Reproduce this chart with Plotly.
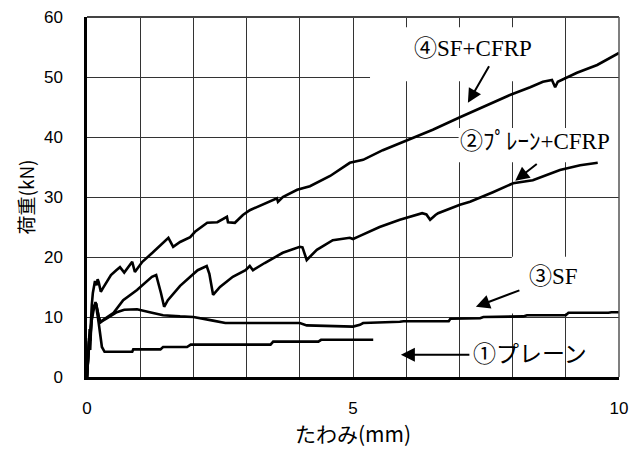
import plotly.graph_objects as go

# Load-deflection data (deflection in mm, load in kN)
x_sf_cfrp = [0, 0.02, 0.04, 0.05, 0.07, 0.09, 0.11, 0.13, 0.15, 0.18, 0.20, 0.22, 0.26, 0.30,
             0.37, 0.45, 0.55, 0.62, 0.70, 0.85, 0.90, 1.04, 1.23, 1.42, 1.53, 1.62, 1.75,
             1.94, 2.03, 2.26, 2.45, 2.63, 2.65, 2.78, 2.93, 3.06, 3.38, 3.57, 3.59, 3.68,
             3.95, 4.19, 4.57, 4.94, 5.19, 5.56, 6.03, 6.50, 7.01, 7.44, 7.95, 8.33, 8.57,
             8.74, 8.80, 8.85, 9.21, 9.59, 10.0]
y_sf_cfrp = [0, 3.0, 6.5, 5.0, 9.5, 12.0, 14.0, 15.5, 16.0, 15.3, 16.3, 15.8, 14.2, 14.8,
             15.8, 17.0, 17.8, 18.3, 17.4, 19.2, 17.5, 19.2, 20.7, 22.3, 23.2, 21.7, 22.5,
             23.3, 24.2, 25.7, 25.8, 26.7, 25.8, 25.7, 27.0, 27.8, 29.0, 29.8, 29.2, 30.0,
             31.2, 31.8, 33.5, 35.7, 36.2, 37.8, 39.5, 41.2, 43.3, 45.0, 47.0, 48.3, 49.2,
             49.5, 48.3, 49.2, 50.7, 52.0, 54.0]

x_plain_cfrp = [0, 0.02, 0.04, 0.06, 0.08, 0.12, 0.16, 0.20, 0.24, 0.30, 0.50, 0.68, 0.94,
                1.22, 1.30, 1.39, 1.45, 1.52, 1.75, 2.08, 2.25, 2.30, 2.37, 2.50, 2.74, 2.98,
                3.06, 3.12, 3.34, 3.68, 4.00, 4.05, 4.13, 4.32, 4.62, 4.94, 5.00, 5.10, 5.30,
                5.50, 5.88, 6.30, 6.38, 6.45, 6.55, 6.60, 7.01, 7.20, 7.63, 8.01, 8.38, 8.89,
                9.27, 9.60]
y_plain_cfrp = [0, 2.5, 6.0, 4.5, 9.0, 11.0, 12.5, 11.0, 9.0, 9.5, 10.7, 12.8, 14.5,
                16.7, 17.0, 14.0, 11.7, 12.8, 15.2, 17.8, 18.5, 17.2, 13.7, 15.0, 16.7, 17.8,
                18.5, 17.8, 19.0, 20.7, 21.7, 21.6, 19.5, 21.2, 22.8, 23.2, 23.0, 23.4, 24.2,
                25.0, 26.2, 27.3, 27.1, 26.2, 27.0, 27.3, 28.7, 29.2, 30.8, 32.3, 32.8, 34.5,
                35.3, 35.7]

x_sf = [0, 0.03, 0.05, 0.06, 0.09, 0.12, 0.17, 0.22, 0.26, 0.38, 0.56, 0.70, 0.94, 1.18,
        1.43, 1.75, 2.00, 2.37, 2.60, 3.00, 4.00, 4.13, 5.00, 5.13, 5.19, 5.88, 5.95, 6.80,
        6.83, 7.39, 7.45, 8.20, 8.27, 9.00, 9.05, 9.80, 9.86, 10.0]
y_sf = [0, 4.0, 7.0, 6.0, 10.0, 11.5, 12.3, 10.0, 9.2, 9.8, 10.8, 11.2, 11.3, 10.8,
        10.3, 10.1, 10.0, 9.4, 9.0, 9.0, 9.0, 8.6, 8.4, 8.7, 9.0, 9.2, 9.3, 9.3,
        9.7, 9.8, 10.0, 10.1, 10.3, 10.3, 10.7, 10.7, 10.8, 10.8]

x_plain = [0, 0.03, 0.05, 0.06, 0.09, 0.12, 0.17, 0.22, 0.28, 0.33, 0.85, 0.87, 1.38, 1.43,
           1.88, 1.95, 3.45, 3.50, 4.35, 4.40, 5.38]
y_plain = [0, 4.0, 8.0, 6.5, 10.0, 11.8, 12.0, 9.0, 5.0, 4.2, 4.2, 4.6, 4.6, 5.0,
           5.0, 5.4, 5.4, 5.9, 5.9, 6.2, 6.2]

x_ticks = [0, 5, 10]
y_ticks = [0, 10, 20, 30, 40, 50, 60]

LABEL_FONT = "Liberation Serif, Noto Sans CJK JP, serif"
JP_FONT = "Noto Sans CJK JP, sans-serif"
TICK_FONT = dict(family="Liberation Sans, Arial, sans-serif", size=17, color="black")

fig = go.Figure()
for xs, ys in [(x_plain, y_plain), (x_sf, y_sf), (x_plain_cfrp, y_plain_cfrp), (x_sf_cfrp, y_sf_cfrp)]:
    fig.add_trace(go.Scatter(x=xs, y=ys, mode="lines",
                             line=dict(color="black", width=2.6), showlegend=False,
                             hoverinfo="skip"))

# white panels behind the labels (they hide the grid but not the curves)
panels = [(5.32, 8.97, 49.3, 58.3), (6.985, 10.0, 35.8, 41.5), (7.985, 10.0, 10.6, 20.05)]
for x0, x1, y0, y1 in panels:
    fig.add_shape(type="rect", xref="x", yref="y", x0=x0, x1=x1, y0=y0, y1=y1,
                  fillcolor="white", line=dict(width=0), layer="between")

# top and right frame
fig.add_shape(type="line", xref="paper", yref="paper", x0=0, x1=1, y0=1, y1=1,
              line=dict(color="#444", width=2), layer="above")
fig.add_shape(type="line", xref="paper", yref="paper", x0=1, x1=1, y0=0, y1=1,
              line=dict(color="#555", width=1.5), layer="above")

labels = [("④SF+CFRP", 7.26, 54.8), ("②ﾌﾟﾚｰﾝ+CFRP", 8.42, 39.2),
          ("③SF", 8.76, 16.7), ("①プレーン", 8.33, 3.7)]
for text, lx, ly in labels:
    fig.add_annotation(x=lx, y=ly, xref="x", yref="y", text=text, showarrow=False,
                       font=dict(family=LABEL_FONT, size=23, color="black"))

arrows = [(7.16, 45.7, 22, -38), (8.05, 32.7, 23, -18), (7.31, 11.7, 45, -17), (5.9, 3.7, 70, 0)]
for tx, ty, ax, ay in arrows:
    fig.add_annotation(x=tx, y=ty, xref="x", yref="y", text="", showarrow=True,
                       ax=ax, ay=ay, arrowhead=2, arrowsize=1.4, arrowwidth=2,
                       arrowcolor="black")

fig.update_xaxes(range=[0, 10], tickvals=x_ticks, ticks="", showgrid=True,
                 gridcolor="#333", gridwidth=1, automargin=False,
                 minor=dict(dtick=1, showgrid=True, gridcolor="#333", gridwidth=1),
                 showline=True, linecolor="black", linewidth=2.5, zeroline=False,
                 tickfont=TICK_FONT, ticklabelstandoff=14,
                 title=dict(text="たわみ(mm)", standoff=10,
                            font=dict(family=JP_FONT, size=21, color="black")))
fig.update_yaxes(range=[0, 60], tickvals=y_ticks, ticks="", showgrid=True,
                 gridcolor="#333", gridwidth=1, automargin=False,
                 showline=True, linecolor="black", linewidth=2.5, zeroline=False,
                 tickfont=TICK_FONT, ticklabelstandoff=18,
                 title=dict(text="荷重(kN)", standoff=5,
                            font=dict(family=JP_FONT, size=19, color="black")))

fig.update_layout(width=630, height=454, margin=dict(l=87, r=11, t=17, b=77),
                  plot_bgcolor="white", paper_bgcolor="white")

fig.write_html("out.html")
